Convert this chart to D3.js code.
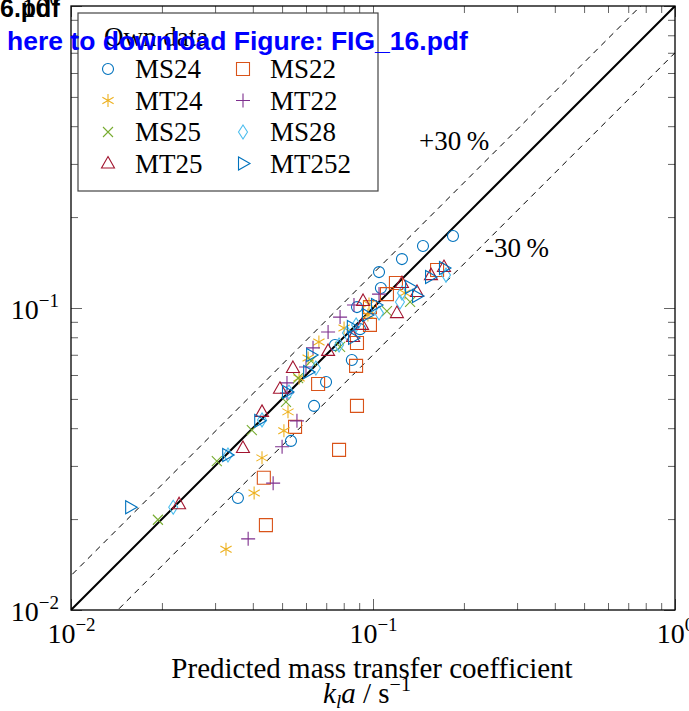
<!DOCTYPE html>
<html>
<head>
<meta charset="utf-8">
<script src="https://cdn.jsdelivr.net/npm/d3@7"></script>
<style>
  body { margin: 0; background: #fff; }
  svg { display: block; }
</style>
</head>
<body>
<svg id="chart" width="689" height="711"></svg>
<script>
var ms24 = [[0.0357,0.0235],[0.0535,0.0363],[0.0638,0.0474],[0.0699,0.0569],[0.0851,0.0673],[0.0748,0.0754],
            [0.0906,0.0851],[0.0885,0.1007],[0.1062,0.1165],[0.1047,0.1315],[0.1247,0.1452],[0.1464,0.1604],[0.184,0.1731]]
var ms22 = [[0.0435,0.0274],[0.0442,0.0191],[0.0552,0.0404],[0.0658,0.056],[0.0772,0.0339],[0.0885,0.0474],
            [0.0879,0.0643],[0.0885,0.0766],[0.0977,0.0879],[0.0977,0.1007],[0.1112,0.1112],[0.1191,0.121],[0.163,0.1336]]
var mt24 = [[0.0326,0.0159],[0.0404,0.0244],[0.0429,0.0319],[0.0507,0.0392],[0.0523,0.0453],[0.0569,0.0586],
            [0.061,0.0683],[0.0662,0.0772],[0.0802,0.0859],[0.0962,0.0948],[0.097,0.103],[0.1276,0.1122]]
var mt22 = [[0.0386,0.0172],[0.0467,0.0263],[0.05,0.0347],[0.056,0.0423],[0.0519,0.0523],[0.0519,0.0565],
            [0.06,0.0638],[0.0633,0.0738],[0.071,0.0833],[0.0778,0.0933],[0.0865,0.1023],[0.1047,0.1112]]
var ms25 = [[0.0194,0.0199],[0.0304,0.0311],[0.0397,0.0394],[0.0515,0.0489],[0.0565,0.0586],[0.0624,0.0668],
            [0.0778,0.0743],[0.1112,0.0977],[0.1327,0.1047]]
var ms28 = [[0.0218,0.0219],[0.0331,0.0326],[0.0429,0.0426],[0.0527,0.0527],[0.0647,0.0633],[0.0772,0.0754],
            [0.082,0.0826],[0.0879,0.0879],[0.1047,0.0962],[0.1228,0.1047],[0.1247,0.1122],[0.1745,0.1285]]
var mt25 = [[0.0228,0.0224],[0.0371,0.0344],[0.0429,0.0453],[0.0492,0.054],[0.0543,0.0633],[0.071,0.0721],
            [0.0859,0.0802],[0.092,0.0879],[0.0927,0.1055],[0.12,0.0962],[0.1247,0.121],[0.1399,0.113],
            [0.1556,0.1285],[0.1718,0.1367]]
var mt252 = [[0.0157,0.0219],[0.0329,0.0326],[0.042,0.0423],[0.0519,0.0527],[0.061,0.0614],[0.0624,0.0699],
             [0.0851,0.0865],[0.0859,0.0796],[0.0955,0.0948],[0.1023,0.1023],[0.1327,0.1174],[0.1399,0.1096],
             [0.1545,0.1267],[0.1718,0.1357]]

var seriesNames = ["MS24", "MS22", "MT24", "MT22", "MS25", "MS28", "MT25", "MT252"]
var seriesData = [ms24, ms22, mt24, mt22, ms25, ms28, mt25, mt252]
var seriesColors = ["#0072BD", "#D95319", "#EDB120", "#7E2F8E", "#77AC30", "#4DBEEE", "#A2142F", "#0072BD"]
var seriesMarks = ["circle", "square", "asterisk", "plus", "cross", "diamond", "triUp", "triRight"]
var bandFactors = [1, 1.3, 0.7]
var bandLabels = ["+30\u2009%", "-30\u2009%"]

var dimensions = {
    width: 689,
    height: 711,
    left: 71,
    right: 675,
    top: 6,
    bottom: 610
}

var svg = d3.select("#chart")
var serif = "'Liberation Serif', 'Times New Roman', serif"

var xScale = d3.scaleLog().domain([0.01, 1]).range([dimensions.left, dimensions.right])
var yScale = d3.scaleLog().domain([0.01, 1]).range([dimensions.bottom, dimensions.top])

// marker shapes, drawn as outlines
function markPath(kind) {
    var p = d3.path()
    if (kind == "circle") { p.moveTo(5.5, 0); p.arc(0, 0, 5.5, 0, 2 * Math.PI) }
    if (kind == "square") { p.rect(-6.5, -6.5, 13, 13) }
    if (kind == "diamond") { p.moveTo(0, -7); p.lineTo(4.5, 0); p.lineTo(0, 7); p.lineTo(-4.5, 0); p.closePath() }
    if (kind == "triUp") { p.moveTo(0, -7); p.lineTo(6.5, 4.5); p.lineTo(-6.5, 4.5); p.closePath() }
    if (kind == "triRight") { p.moveTo(7, 0); p.lineTo(-4.5, 6.5); p.lineTo(-4.5, -6.5); p.closePath() }
    if (kind == "plus") { p.moveTo(-7, 0); p.lineTo(7, 0); p.moveTo(0, -7); p.lineTo(0, 7) }
    if (kind == "cross") { p.moveTo(-5, -5); p.lineTo(5, 5); p.moveTo(-5, 5); p.lineTo(5, -5) }
    if (kind == "asterisk") {
        for (var k = 0; k < 3; k++) {
            var a = Math.PI / 2 + k * Math.PI / 3
            p.moveTo(-6.5 * Math.cos(a), -6.5 * Math.sin(a))
            p.lineTo(6.5 * Math.cos(a), 6.5 * Math.sin(a))
        }
    }
    return p.toString()
}

// ---- axes with inward ticks on all four sides
var allTicks = xScale.ticks()
var isMajor = d => Math.abs(Math.log10(d) - Math.round(Math.log10(d))) < 1e-6
var tickLen = d => isMajor(d) ? 11 : 7

function tickAxis(gen, transform, attr, sign) {
    var g = svg.append("g")
        .attr("transform", transform)
        .call(gen.tickValues(allTicks).tickFormat("").tickSizeOuter(0))
    g.select(".domain").remove()
    g.selectAll(".tick line")
        .attr(attr, d => sign * tickLen(d))
        .attr("stroke", "#666")
    return g
}

var bottomAxis = tickAxis(d3.axisBottom(xScale), `translate(0,${dimensions.bottom})`, "y2", -1)
var leftAxis = tickAxis(d3.axisLeft(yScale), `translate(${dimensions.left},0)`, "x2", 1)
tickAxis(d3.axisTop(xScale), `translate(0,${dimensions.top})`, "y2", 1)
tickAxis(d3.axisRight(yScale), `translate(${dimensions.right},0)`, "x2", -1)

function powerLabel(sel, d) {
    var e = Math.round(Math.log10(d))
    sel.append("tspan").text("10")
    sel.append("tspan").attr("dy", -12).attr("font-size", 19).text(e < 0 ? "\u2212" + (-e) : e)
}

bottomAxis.selectAll(".tick").filter(isMajor).append("text")
    .attr("y", 33).attr("fill", "black")
    .style("font-family", serif).style("font-size", "28px")
    .attr("text-anchor", "middle")
    .each(function (d) { powerLabel(d3.select(this), d) })

leftAxis.selectAll(".tick").filter(isMajor).append("text")
    .attr("x", -12).attr("y", 10).attr("fill", "black")
    .style("font-family", serif).style("font-size", "28px")
    .attr("text-anchor", "end")
    .each(function (d) { powerLabel(d3.select(this), d) })

// ---- parity line and +-30 % band
svg.append("clipPath").attr("id", "plotclip")
    .append("rect")
    .attr("x", dimensions.left).attr("y", dimensions.top)
    .attr("width", dimensions.right - dimensions.left)
    .attr("height", dimensions.bottom - dimensions.top)

var lineGen = d3.line().x(d => xScale(d[0])).y(d => yScale(d[1]))

svg.append("g").attr("clip-path", "url(#plotclip)")
    .selectAll("path")
    .data(bandFactors)
    .enter()
    .append("path")
    .attr("d", f => lineGen([[0.001, 0.001 * f], [1, f]]))
    .attr("fill", "none")
    .attr("stroke", "black")
    .attr("stroke-width", (f, i) => i == 0 ? 2 : 1)
    .attr("stroke-dasharray", (f, i) => i == 0 ? null : "6,5")

svg.append("text")
    .attr("x", 419).attr("y", 150)
    .style("font-family", serif).style("font-size", "27px")
    .text(bandLabels[0])
svg.append("text")
    .attr("x", 485).attr("y", 257)
    .style("font-family", serif).style("font-size", "27px")
    .text(bandLabels[1])

// ---- data points
seriesData.forEach(function (data, i) {
    svg.append("g")
        .selectAll("path")
        .data(data)
        .enter()
        .append("path")
        .attr("transform", d => `translate(${xScale(d[0])},${yScale(d[1])})`)
        .attr("d", markPath(seriesMarks[i]))
        .attr("fill", "none")
        .attr("stroke", seriesColors[i])
        .attr("stroke-width", 1.1)
})

// frame
svg.append("rect")
    .attr("x", dimensions.left).attr("y", dimensions.top)
    .attr("width", dimensions.right - dimensions.left)
    .attr("height", dimensions.bottom - dimensions.top)
    .attr("fill", "none")
    .attr("stroke", "black")
    .attr("stroke-width", 1.3)

// ---- legend
var legend = svg.append("g")
legend.append("rect")
    .attr("x", 78).attr("y", 13).attr("width", 300).attr("height", 178)
    .attr("fill", "white").attr("stroke", "#444").attr("stroke-width", 1.2)
legend.append("text")
    .attr("x", 104).attr("y", 46)
    .style("font-family", serif).style("font-size", "27px")
    .text("Own data")

var items = legend.selectAll(".item")
    .data(seriesNames)
    .enter()
    .append("g")
    .attr("transform", (d, i) => `translate(${i % 2 ? 243 : 108},${69 + Math.floor(i / 2) * 31.5})`)
items.append("path")
    .attr("d", (d, i) => markPath(seriesMarks[i]))
    .attr("fill", "none")
    .attr("stroke", (d, i) => seriesColors[i])
    .attr("stroke-width", 1.1)
items.append("text")
    .attr("x", 27).attr("y", 9)
    .style("font-family", serif).style("font-size", "27px")
    .text(d => d)

// ---- axis title
svg.append("text")
    .attr("x", 372).attr("y", 678)
    .attr("text-anchor", "middle")
    .style("font-family", serif).style("font-size", "29px")
    .text("Predicted mass transfer coefficient")

var unit = svg.append("text")
    .attr("x", 367).attr("y", 703)
    .attr("text-anchor", "middle")
    .style("font-family", serif).style("font-size", "29px")
unit.append("tspan").style("font-style", "italic").text("k")
unit.append("tspan").style("font-style", "italic").attr("font-size", 19).attr("dy", 5).text("l")
unit.append("tspan").style("font-style", "italic").attr("dy", -5).text("a")
unit.append("tspan").text(" / s")
unit.append("tspan").attr("font-size", 20).attr("dy", -12).text("\u22121")

// ---- page overlay text from the download page
svg.append("text")
    .attr("x", 0).attr("y", 17)
    .style("font-family", "'Liberation Sans', Arial, sans-serif")
    .style("font-size", "25px").style("font-weight", "bold")
    .text("6.pdf")
svg.append("text")
    .attr("x", 7).attr("y", 50)
    .attr("fill", "#0000FF")
    .style("font-family", "'Liberation Sans', Arial, sans-serif")
    .style("font-size", "26.5px").style("font-weight", "bold")
    .text("here to download Figure: FIG_16.pdf")
</script>
</body>
</html>
